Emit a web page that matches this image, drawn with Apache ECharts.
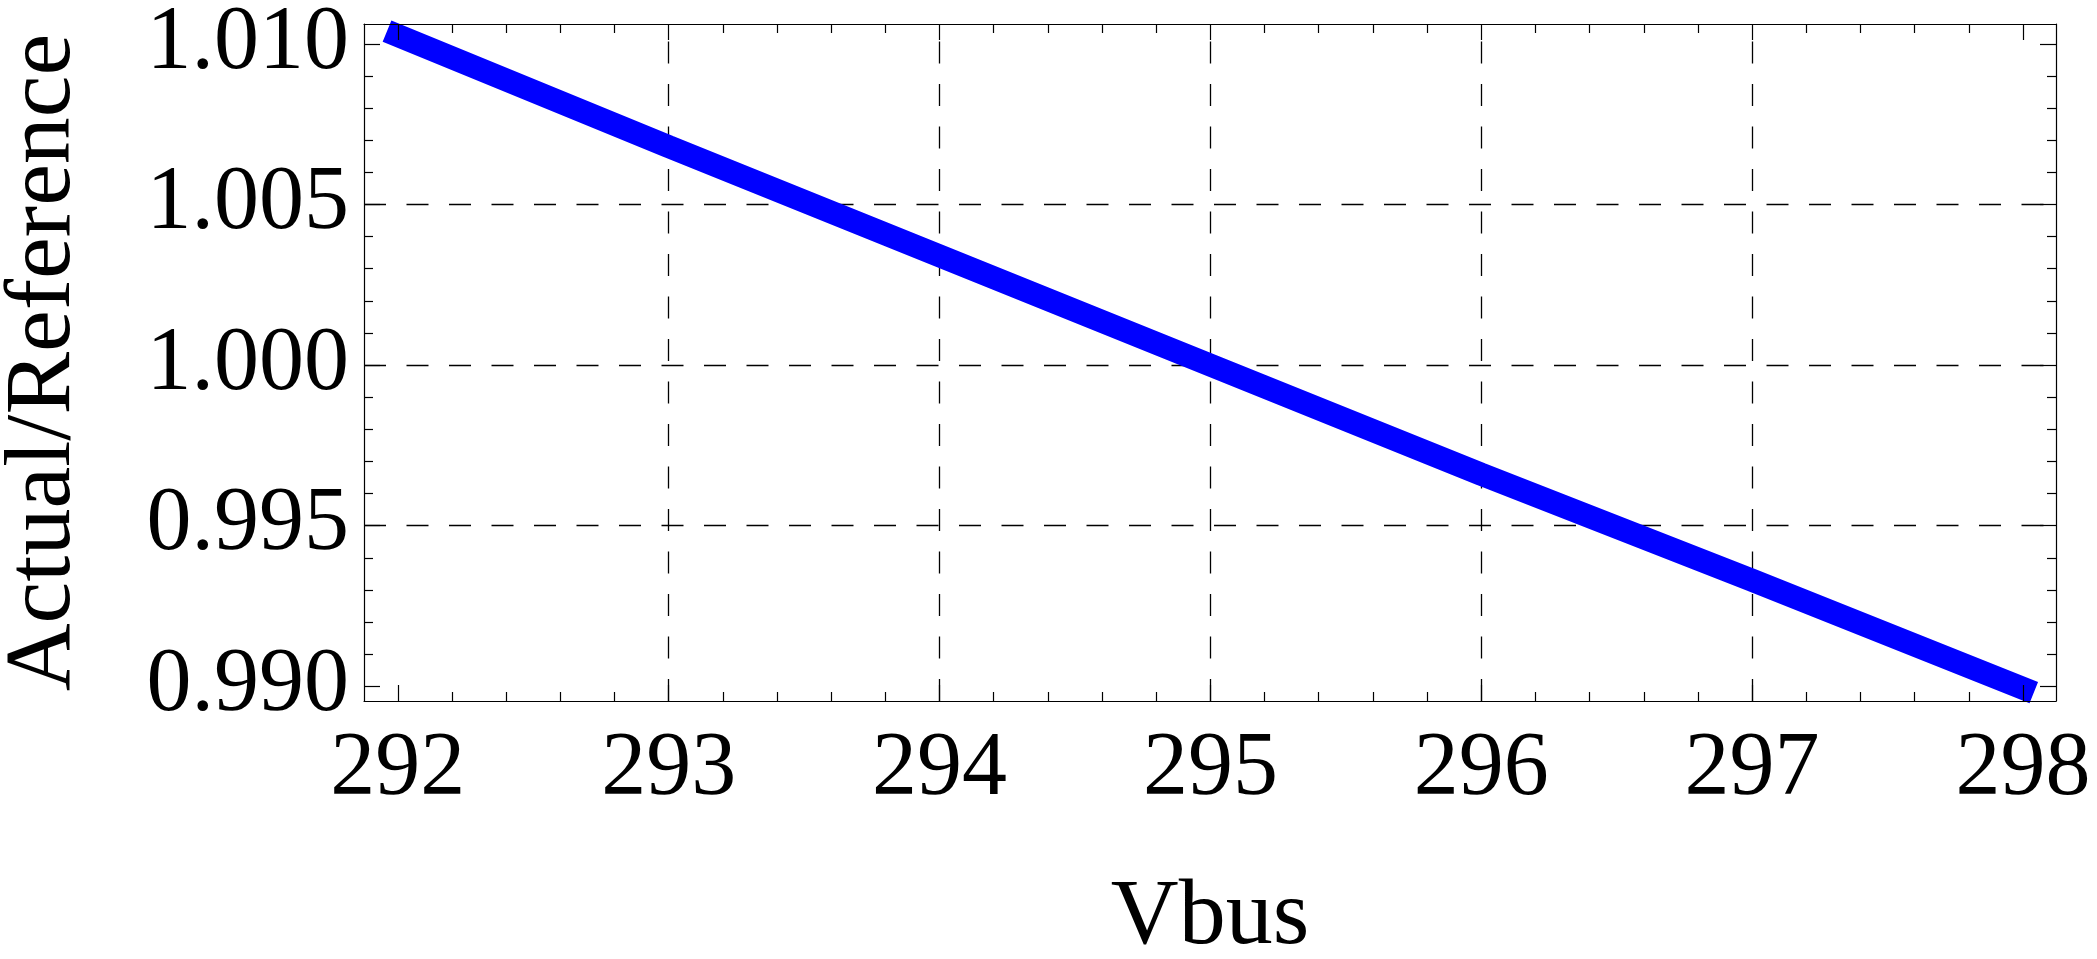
<!DOCTYPE html>
<html>
<head>
<meta charset="utf-8">
<title>Actual/Reference vs Vbus</title>
<script src="https://cdn.jsdelivr.net/npm/echarts@6/dist/echarts.min.js"></script>
<style>
  html, body { margin: 0; padding: 0; background: #fff; }
  #chart { width: 2097px; height: 959px; }
</style>
</head>
<body>
<div id="chart"></div>
<script>
// data
const vbus = [291.96, 293, 294, 295, 296, 297, 298.04];
const ratio = [1.0104, 1.0068, 1.0034, 1.0, 0.9966, 0.9933, 0.9898];

// tick labels
const xTicks = [292, 293, 294, 295, 296, 297, 298];
const yTicks = [0.99, 0.995, 1.0, 1.005, 1.01];

const xRange = [291.875, 298.122];
const yRange = [0.98954, 1.01062];

// minor ticks between the majors
function minors(ticks, n) {
  let out = [];
  for (let i = 0; i < ticks.length - 1; i++) {
    let step = (ticks[i + 1] - ticks[i]) / n;
    for (let k = 1; k < n; k++) {
      out.push(Math.round((ticks[i] + k * step) * 1e6) / 1e6);
    }
  }
  return out;
}
const xMinor = minors(xTicks, 5);
const yMinor = minors(yTicks, 5);

const font = "Liberation Serif";

// frame axis: only line + inside ticks, drawn on top of the series
function frameAxis(pos, ticks, len, showLine, range) {
  return {
    type: "value",
    position: pos,
    min: range[0],
    max: range[1],
    z: 10,
    axisLine: { show: showLine, onZero: false, lineStyle: { color: "#000", width: 1.2 } },
    axisTick: {
      show: true,
      inside: true,
      length: len,
      customValues: ticks,
      lineStyle: { color: "#000", width: 1.2 },
    },
    axisLabel: { show: false },
    splitLine: { show: false },
  };
}

const chart = echarts.init(document.getElementById("chart"));
chart.setOption({
  animation: false,
  backgroundColor: "#fff",
  grid: {
    left: 364,
    right: 41,
    top: 24,
    bottom: 258,
    containLabel: false,
    outerBoundsMode: "none",
  },
  xAxis: [
    {
      type: "value",
      position: "bottom",
      min: xRange[0],
      max: xRange[1],
      z: 0,
      name: "Vbus",
      nameLocation: "middle",
      nameGap: 170,
      nameTextStyle: { fontFamily: font, fontSize: 94, color: "#000" },
      axisLine: { show: false, onZero: false },
      // grid lines only on the inner ticks
      axisTick: { show: false, customValues: xTicks.slice(1, -1) },
      axisLabel: {
        customValues: xTicks,
        margin: 24,
        fontFamily: font,
        fontSize: 90,
        color: "#000",
        formatter: (v) => String(Math.round(v)),
      },
      splitLine: {
        show: true,
        lineStyle: { color: "#000", width: 1.3, type: [22, 20.5], dashOffset: 25 },
      },
    },
    frameAxis("bottom", xTicks, 16, true, xRange),
    frameAxis("bottom", xMinor, 9, false, xRange),
    frameAxis("top", xTicks, 16, true, xRange),
    frameAxis("top", xMinor, 9, false, xRange),
  ],
  yAxis: [
    {
      type: "value",
      position: "left",
      min: yRange[0],
      max: yRange[1],
      z: 0,
      name: "Actual/Reference",
      nameLocation: "middle",
      nameGap: 273,
      nameTextStyle: { fontFamily: font, fontSize: 94, color: "#000" },
      axisLine: { show: false, onZero: false },
      axisTick: { show: false, customValues: yTicks.slice(1, -1) },
      axisLabel: {
        customValues: yTicks,
        margin: 15,
        fontFamily: font,
        fontSize: 90,
        color: "#000",
        formatter: (v) => v.toFixed(3),
      },
      splitLine: {
        show: true,
        lineStyle: { color: "#000", width: 1.3, type: [22, 20.5] },
      },
    },
    frameAxis("left", yTicks, 16, true, yRange),
    frameAxis("left", yMinor, 9, false, yRange),
    frameAxis("right", yTicks, 16, true, yRange),
    frameAxis("right", yMinor, 9, false, yRange),
  ],
  series: [
    {
      type: "line",
      xAxisIndex: 0,
      yAxisIndex: 0,
      data: vbus.map((v, i) => [v, ratio[i]]),
      showSymbol: false,
      symbol: "none",
      clip: false,
      z: 2,
      lineStyle: { color: "#0000ff", width: 23, cap: "butt" },
    },
  ],
});
</script>
</body>
</html>
